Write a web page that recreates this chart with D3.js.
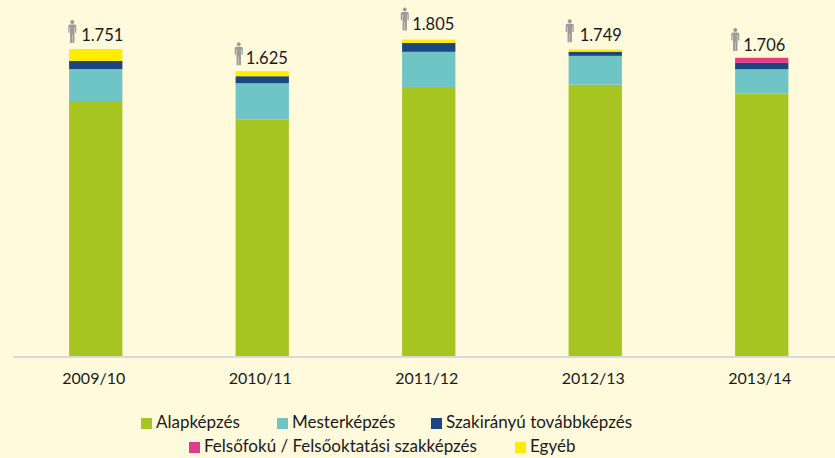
<!DOCTYPE html>
<html><head><meta charset="utf-8">
<script src="https://cdn.jsdelivr.net/npm/d3@7"></script>
<style>html,body{margin:0;padding:0;background:#FFFADC}svg{display:block}text{font-family:Lato,"Open Sans",sans-serif;fill:#1a1a1a}</style>
</head><body><svg id="c" width="835" height="458"></svg>
<script>
const years=["2009/10","2010/11","2011/12","2012/13","2013/14"];
const totals=[1751,1625,1805,1749,1706];
const totalLabels=["1.751","1.625","1.805","1.749","1.706"];
const seriesNames=["Alapképzés","Mesterképzés","Szakirányú továbbképzés","Felsőfokú / Felsőoktatási szakképzés","Egyéb"];
const alap=[1455,1348,1535,1548,1497];
const mester=[182,208,200,164,139];
const szakiranyu=[46,40,51,24,36];
const felsofoku=[0,0,0,0,28];
const egyeb=[68,29,19,13,6];
const colors=["#A7C520","#6FC4C6","#1B4680","#E03C8A","#FFED00"];

const W=835,H=458,base=356.5;
const svg=d3.select("#c");
const x=d3.scaleBand().domain(years).range([12.5,845]).paddingInner(0.68).paddingOuter(0.34);
const y=d3.scaleLinear().domain([0,1751]).range([base,49]);
const keys=seriesNames;
const rows=years.map((yr,i)=>({yr,[keys[0]]:alap[i],[keys[1]]:mester[i],[keys[2]]:szakiranyu[i],[keys[3]]:felsofoku[i],[keys[4]]:egyeb[i]}));
const stack=d3.stack().keys(keys)(rows);
svg.append("g").selectAll("g").data(stack).join("g").attr("fill",(d,i)=>colors[i])
 .selectAll("rect").data(d=>d).join("rect")
 .attr("x",d=>x(d.data.yr)).attr("width",x.bandwidth())
 .attr("y",d=>y(d[1])).attr("height",d=>Math.max(0,y(d[0])-y(d[1])));

// axis
const ax=svg.append("g").attr("transform",`translate(0,${base})`).call(d3.axisBottom(x).tickSize(0).tickPadding(16));
ax.select(".domain").attr("d","M13,0H835").attr("stroke","#D9D9D9").attr("stroke-width",2).attr("transform","translate(0,0.5)");
ax.selectAll("text").style("font-size","16px").style("font-family","Lato").attr("fill","#1a1a1a").attr("dx",-2);

// total labels + person icon (layout nudges relative to bar top/centre)
const labelDx=[6.5,4.5,4.5,5.5,2.5], labelDy=[-8,-7,-10,-8,-6];
const iconDx=[-23.5,-23.5,-24,-25.5,-26.5], iconTop=[-27,-27,-30,-28,-27];
const person="M0,0a2,2 0 1,1 0.01,0ZM-2.4,0.5h4.8a1.6,1.6 0 0,1 1.6,1.6v6.6h-1.3v-5.6h-0.5v15.9h-2v-8.4h-0.4v8.4h-2v-15.9h-0.5v5.6h-1.3v-6.6a1.6,1.6 0 0,1 1.6,-1.6Z";
const lab=svg.append("g");
years.forEach((yr,i)=>{
  const cx=x(yr)+x.bandwidth()/2, top=y(totals[i]);
  lab.append("path").attr("d",person).attr("fill","#9B9B9B").attr("transform",`translate(${cx+iconDx[i]},${top+iconTop[i]+2})`);
  lab.append("text").attr("x",cx+labelDx[i]).attr("y",top+labelDy[i]).attr("text-anchor","middle").style("font-size","16.5px").text(totalLabels[i]);
});

// legend
const legendX=[141,277,431,189,515], legendY=[418,418,418,442,442];
const lg=svg.append("g").selectAll("g").data(seriesNames).join("g").attr("transform",(d,i)=>`translate(${legendX[i]},${legendY[i]})`);
lg.append("rect").attr("width",11).attr("height",11).attr("fill",(d,i)=>colors[i]);
lg.append("text").attr("x",15).attr("y",10).style("font-size","17px").text(d=>d);
</script></body></html>
